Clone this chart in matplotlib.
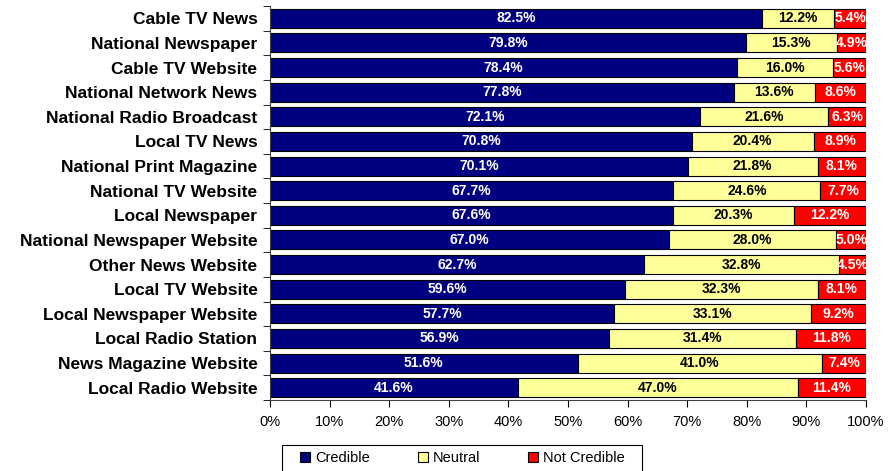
import numpy as np
import matplotlib.pyplot as plt
from matplotlib.patches import Patch, Rectangle

plt.rcParams['font.family'] = ['Liberation Sans', 'DejaVu Sans']

categories = ['Cable TV News', 'National Newspaper', 'Cable TV Website',
              'National Network News', 'National Radio Broadcast', 'Local TV News',
              'National Print Magazine', 'National TV Website', 'Local Newspaper',
              'National Newspaper Website', 'Other News Website', 'Local TV Website',
              'Local Newspaper Website', 'Local Radio Station', 'News Magazine Website',
              'Local Radio Website']
credible = [82.5, 79.8, 78.4, 77.8, 72.1, 70.8, 70.1, 67.7, 67.6, 67.0, 62.7, 59.6,
            57.7, 56.9, 51.6, 41.6]
neutral = [12.2, 15.3, 16.0, 13.6, 21.6, 20.4, 21.8, 24.6, 20.3, 28.0, 32.8, 32.3,
           33.1, 31.4, 41.0, 47.0]
not_credible = [5.4, 4.9, 5.6, 8.6, 6.3, 8.9, 8.1, 7.7, 12.2, 5.0, 4.5, 8.1,
                9.2, 11.8, 7.4, 11.4]
series_names = ['Credible', 'Neutral', 'Not Credible']
colors = ['#000080', '#FFFF99', '#FF0000']
text_colors = ['white', 'black', 'white']

fig = plt.figure(figsize=(8.89, 4.71), dpi=100)
ax = fig.add_axes([0.3037, 0.1507, 0.6704, 0.8365])

y = np.arange(len(categories))
left = np.zeros(len(categories))
for vals, col, tcol in zip([credible, neutral, not_credible], colors, text_colors):
    vals = np.array(vals)
    ax.barh(y, vals, left=left, height=0.77, color=col, edgecolor='black', linewidth=0.8)
    for yi, l, v in zip(y, left, vals):
        ax.text(l + v / 2, yi, f'{v:.1f}%', ha='center', va='center',
                color=tcol, fontsize=10, fontweight='bold')
    left += vals

ax.set_xlim(0, 100)
ax.set_ylim(len(categories) - 0.5, -0.5)
ax.set_xticks(np.arange(0, 101, 10))
ax.set_xticklabels([f'{v}%' for v in range(0, 101, 10)], fontsize=10.5)
ax.set_yticks(y)
ax.set_yticklabels(categories, fontsize=12.5, fontweight='bold')
ax.tick_params(axis='y', length=0, pad=9)
ax.set_yticks(np.arange(-0.5, len(categories), 1), minor=True)
ax.tick_params(axis='y', which='minor', length=5, direction='out')
ax.tick_params(axis='x', length=5, direction='out', pad=6)

for s in ['top', 'right']:
    ax.spines[s].set_visible(False)
ax.spines['left'].set_color('#404040')
ax.spines['bottom'].set_color('#404040')

# legend box drawn separately so its width matches the original
fig.patches.append(Rectangle((282 / 889, -0.01), 360 / 889, (471 - 445) / 471 + 0.01,
                             transform=fig.transFigure, facecolor='white',
                             edgecolor='black', linewidth=0.8))
handles = [Patch(facecolor=c, edgecolor='black', linewidth=0.8) for c in colors]
fig.legend(handles, series_names, loc='center', bbox_to_anchor=(0.52, (471 - 458) / 471),
           ncol=3, frameon=False, fontsize=10.5, borderaxespad=0,
           handlelength=0.7, handleheight=0.7, handletextpad=0.3,
           columnspacing=3.3)

fig.savefig('out.png', dpi=100)
